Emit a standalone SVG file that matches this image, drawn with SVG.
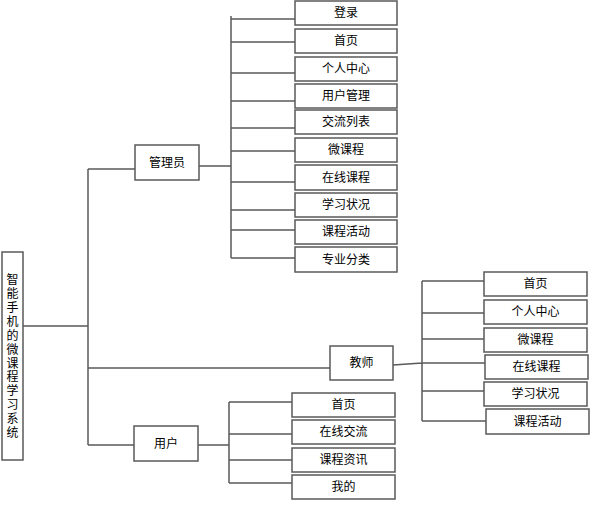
<svg xmlns="http://www.w3.org/2000/svg" width="596" height="522" viewBox="0 0 596 522">
<style>
.b{fill:#fff;stroke:#5a5a5a;stroke-width:1.5}
.t{font-family:"Noto Sans CJK SC","Noto Sans CJK JP",sans-serif;font-size:12px;fill:#000;text-anchor:middle}
.v{writing-mode:vertical-rl;letter-spacing:1.9px}
.c{fill:none;stroke:#5a5a5a;stroke-width:1.5}
</style>
<rect width="596" height="522" fill="#fff"/>
<g id="connectors">
<path class="c" d="M23 326H88M88 169V445M88 169H135M88 368H330M88 445H134"/>
<path class="c" d="M199 166H231M231 16V258M231 19H295M231 42H295M231 73H295M231 101H295M231 128H295M231 151H295M231 182H295M231 210H295M231 230H295M231 258H295"/>
<path class="c" d="M393 365L422 363M422 281V421M422 281H484M422 313H484M422 339H484M422 363H485M422 391H484M422 421H486"/>
<path class="c" d="M198 445H229M229 402V483M229 402H292M229 434H292M229 460H292M229 483H292"/>
</g>
<g id="root"><rect class="b" x="2" y="252" width="21" height="208"/>
<text class="t v" x="12.5" y="357">智能手机的微课程学习系统</text></g>
<g id="admin"><rect class="b" x="135" y="145" width="64" height="35"/><text class="t" x="167" y="167">管理员</text></g>
<g id="teacher"><rect class="b" x="330" y="346" width="63" height="34"/><text class="t" x="361.5" y="367">教师</text></g>
<g id="user"><rect class="b" x="134" y="426" width="64" height="35"/><text class="t" x="166" y="448">用户</text></g>
<g id="a1"><rect class="b" x="295" y="1" width="102" height="24"/><text class="t" x="346" y="17">登录</text></g>
<g id="a2"><rect class="b" x="295" y="29" width="102" height="24"/><text class="t" x="346" y="45">首页</text></g>
<g id="a3"><rect class="b" x="295" y="57" width="102" height="24"/><text class="t" x="346" y="73">个人中心</text></g>
<g id="a4"><rect class="b" x="295" y="84" width="102" height="24"/><text class="t" x="346" y="100">用户管理</text></g>
<g id="a5"><rect class="b" x="295" y="110" width="102" height="24"/><text class="t" x="346" y="126">交流列表</text></g>
<g id="a6"><rect class="b" x="295" y="138" width="102" height="24"/><text class="t" x="346" y="154">微课程</text></g>
<g id="a7"><rect class="b" x="295" y="165" width="102" height="25"/><text class="t" x="346" y="182">在线课程</text></g>
<g id="a8"><rect class="b" x="295" y="193" width="102" height="24"/><text class="t" x="346" y="209">学习状况</text></g>
<g id="a9"><rect class="b" x="295" y="220" width="102" height="24"/><text class="t" x="346" y="236">课程活动</text></g>
<g id="a10"><rect class="b" x="295" y="247" width="102" height="25"/><text class="t" x="346" y="264">专业分类</text></g>
<g id="t1"><rect class="b" x="484" y="272" width="103" height="24"/><text class="t" x="535.5" y="288">首页</text></g>
<g id="t2"><rect class="b" x="484" y="300" width="103" height="24"/><text class="t" x="535.5" y="316">个人中心</text></g>
<g id="t3"><rect class="b" x="484" y="328" width="103" height="24"/><text class="t" x="535.5" y="344">微课程</text></g>
<g id="t4"><rect class="b" x="485" y="355" width="103" height="24"/><text class="t" x="536.5" y="371">在线课程</text></g>
<g id="t5"><rect class="b" x="484" y="382" width="103" height="24"/><text class="t" x="535.5" y="398">学习状况</text></g>
<g id="t6"><rect class="b" x="486" y="409" width="103" height="25"/><text class="t" x="537.5" y="426">课程活动</text></g>
<g id="u1"><rect class="b" x="292" y="393" width="103" height="24"/><text class="t" x="343.5" y="409">首页</text></g>
<g id="u2"><rect class="b" x="292" y="420" width="103" height="24"/><text class="t" x="343.5" y="436">在线交流</text></g>
<g id="u3"><rect class="b" x="292" y="448" width="103" height="24"/><text class="t" x="343.5" y="464">课程资讯</text></g>
<g id="u4"><rect class="b" x="292" y="475" width="103" height="24"/><text class="t" x="343.5" y="491">我的</text></g>
</svg>
